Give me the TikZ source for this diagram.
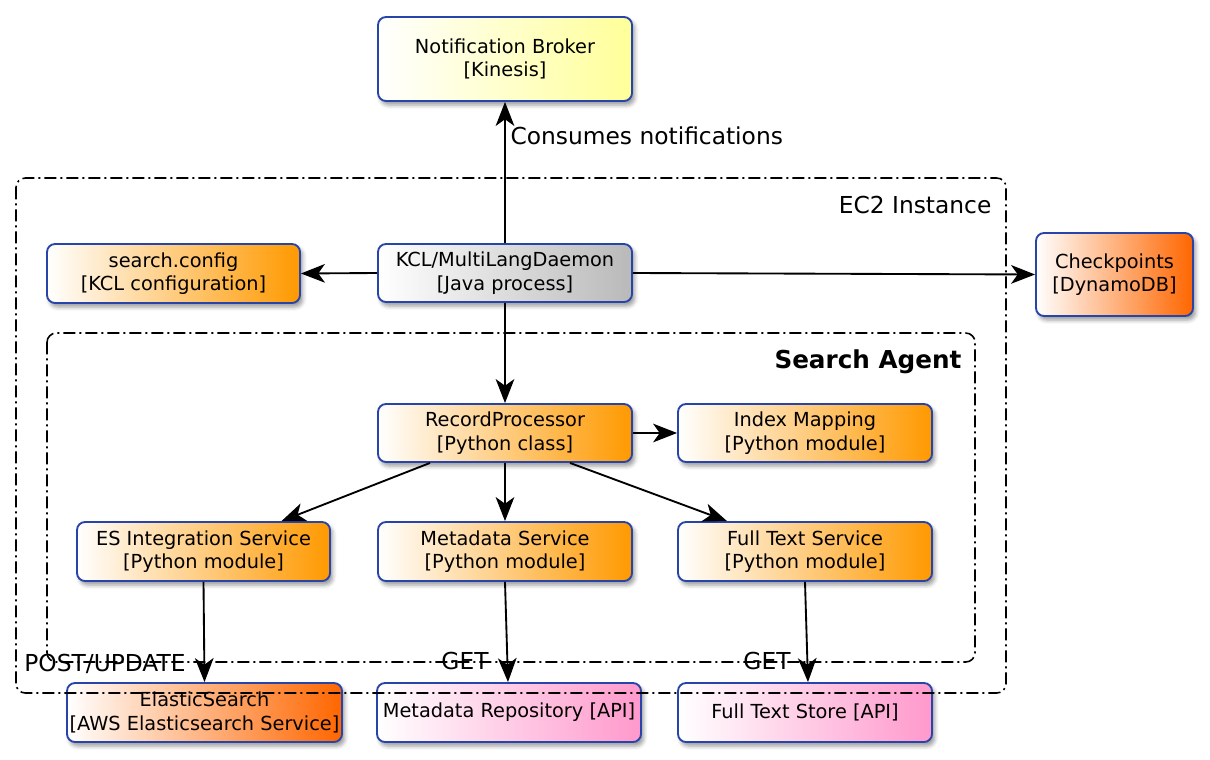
\documentclass[tikz,border=0pt]{standalone}
\usepackage{fontspec}
\setmainfont{DejaVu Sans}
\usetikzlibrary{arrows.meta,shadows.blur}
\definecolor{bborder}{RGB}{38,68,170}
\definecolor{borange}{RGB}{255,153,0}
\definecolor{bdorange}{RGB}{255,102,0}
\definecolor{byellow}{RGB}{255,255,153}
\definecolor{bgray}{RGB}{185,185,185}
\definecolor{bpink}{RGB}{255,153,204}
\def\px{0.75pt}
\tikzset{
  box/.style={draw=bborder, line width=1.4pt, rounded corners=6pt, inner sep=0pt,
    align=center, font=\fontsize{14.5}{17.5}\selectfont,
    blur shadow={shadow xshift=2pt, shadow yshift=-3pt, shadow blur radius=3pt, shadow opacity=40}},
  orangebox/.style={box, left color=white, right color=borange},
  dorangebox/.style={box, left color=white, right color=bdorange},
  yellowbox/.style={box, left color=white, right color=byellow},
  graybox/.style={box, left color=white, right color=bgray},
  pinkbox/.style={box, left color=white, right color=bpink},
  arr/.style={line width=1.4pt, -{Stealth[length=18pt, width=14pt, inset=5pt]}},
  bound/.style={line width=1.2pt, dash pattern=on 9pt off 3pt on 1.5pt off 3pt, rounded corners=7pt},
  lbl/.style={font=\fontsize{17.5}{20}\selectfont, inner sep=1pt}
}
\begin{document}
\begin{tikzpicture}[x=0.75pt, y=-0.75pt]
\useasboundingbox (0,0) rectangle (1210,760);

\node[yellowbox, minimum width=254*\px, minimum height=84*\px] (broker) at (505,59) {Notification Broker\\{[}Kinesis{]}};
\node[orangebox, minimum width=253*\px, minimum height=59*\px] (config) at (173.5,273.5) {search.config\\{[}KCL configuration{]}};
\node[graybox, minimum width=254*\px, minimum height=58*\px] (kcl) at (505,273) {KCL/MultiLangDaemon\\{[}Java process{]}};
\node[dorangebox, minimum width=157*\px, minimum height=83*\px] (chk) at (1114.5,274.5) {Checkpoints\\{[}DynamoDB{]}};
\node[orangebox, minimum width=254*\px, minimum height=58*\px] (rp) at (505,433) {RecordProcessor\\{[}Python class{]}};
\node[orangebox, minimum width=254*\px, minimum height=58*\px] (im) at (805,433) {Index Mapping\\{[}Python module{]}};
\node[orangebox, minimum width=253*\px, minimum height=59*\px] (es) at (203.5,551.5) {ES Integration Service\\{[}Python module{]}};
\node[orangebox, minimum width=254*\px, minimum height=59*\px] (md) at (505,551.5) {Metadata Service\\{[}Python module{]}};
\node[orangebox, minimum width=254*\px, minimum height=59*\px] (ft) at (805,551.5) {Full Text Service\\{[}Python module{]}};
\node[dorangebox, minimum width=275*\px, minimum height=59*\px] (elastic) at (204.5,712.5) {ElasticSearch\\{[}AWS Elasticsearch Service{]}};
\node[pinkbox, minimum width=264*\px, minimum height=59*\px] (mr) at (509,712.5) {Metadata Repository {[}API{]}};
\node[pinkbox, minimum width=254*\px, minimum height=59*\px] (fts) at (805,712.5) {Full Text Store {[}API{]}};

\draw[arr] (kcl.north) -- (broker.south);
\draw[arr] (kcl.west) -- (config.east);
\draw[arr] (kcl.east) -- (chk.west);
\draw[arr] (kcl.south) -- (rp.north);
\draw[arr] (rp.east) -- (im.west);
\draw[arr] ([xshift=-75*\px]rp.south) -- ([xshift=78*\px]es.north);
\draw[arr] (rp.south) -- (md.north);
\draw[arr] ([xshift=65*\px]rp.south) -- ([xshift=-78*\px]ft.north);
\draw[arr] (es.south) -- (elastic.north);
\draw[arr] (md.south) -- ([xshift=-1*\px]mr.north);
\draw[arr] (ft.south) -- ([xshift=3*\px]fts.north);

\node[lbl, anchor=west] (lcons) at (509,136) {Consumes notifications};
\node[lbl, anchor=east] (lec2) at (993,205) {EC2 Instance};
\node[font=\bfseries\fontsize{18.5}{21}\selectfont, anchor=east, inner sep=1pt] (lsa) at (963,362) {Search Agent};
\node[lbl] (lpost) at (105,664) {POST/UPDATE};
\node[lbl] (lget1) at (465,661) {GET};
\node[lbl] (lget2) at (767,661) {GET};

\draw[bound] (16,178) rectangle (1006,693);
\draw[bound] (47,333) rectangle (975,662);
\end{tikzpicture}
\end{document}
